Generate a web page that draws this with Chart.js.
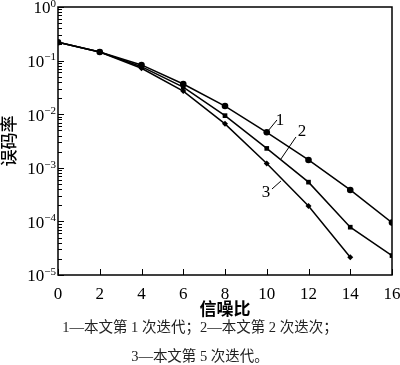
<!DOCTYPE html>
<html>
<head>
<meta charset="utf-8">
<script src="https://cdn.jsdelivr.net/npm/chart.js@4"></script>
<style>
  html, body { margin: 0; padding: 0; background: #fff; }
  #wrap { position: relative; width: 400px; height: 365px; }
  canvas { position: absolute; left: 0; top: 0; }
  .cap { position: absolute; left: 0; width: 400px; text-align: center;
         font-family: "Liberation Serif", "Noto Sans CJK SC", serif; font-size: 14.5px; color: #222; line-height: 18px; }
</style>
</head>
<body>
<div id="wrap">
  <canvas id="c" width="400" height="320"></canvas>
  <div class="cap" style="top:318px">1—本文第 1 次迭代；2—本文第 2 次迭次；</div>
  <div class="cap" style="top:347px">3—本文第 5 次迭代。</div>
</div>
<script>
// ---- data ----
const snr = [0, 2, 4, 6, 8, 10, 12, 14, 16];
const iter1 = [0.22, 0.145, 0.083, 0.0366, 0.0142, 0.0046, 0.0014, 0.000386, 0.000095];
const iter2 = [0.22, 0.145, 0.077, 0.032, 0.0094, 0.0023, 0.00054, 0.000078, 0.000023];
const iter3 = [0.22, 0.145, 0.072, 0.027, 0.0066, 0.0012, 0.000194, 0.0000214];
const yTickValues = [1e-5, 1e-4, 1e-3, 1e-2, 1e-1, 1];
const xTickValues = [0, 2, 4, 6, 8, 10, 12, 14, 16];
// curve labels: [text, textX, textY, lineX1, lineY1, lineX2, lineY2] in data units
const curveLabels = [
  ['1', 10.63, 7.46e-3, 10.06, 4.86e-3, 10.49, 7.8e-3],
  ['2', 11.69, 4.66e-3, 10.68, 1.46e-3, 11.40, 3.76e-3],
  ['3', 9.96, 3.39e-4, 10.25, 4.02e-4, 10.68, 5.67e-4]
];

const serif = '"Liberation Serif", "DejaVu Serif", serif';

const decor = {
  id: 'decor',
  afterDraw(chart) {
    const {ctx, chartArea: a, scales: {x, y}} = chart;
    ctx.save();
    ctx.strokeStyle = '#000';
    ctx.lineWidth = 1.5;
    ctx.strokeRect(a.left, a.top, a.right - a.left, a.bottom - a.top);
    ctx.lineWidth = 1;
    ctx.beginPath();
    for (let e = -5; e <= 0; e++) {
      for (let m = 1; m <= 9; m++) {
        const v = m * Math.pow(10, e);
        if (v > 1.0000001) break;
        const py = Math.round(y.getPixelForValue(v)) + 0.5;
        const len = m === 1 ? 6 : 4;
        ctx.moveTo(a.left, py); ctx.lineTo(a.left + len, py);
      }
    }
    xTickValues.forEach(v => {
      const px = Math.round(x.getPixelForValue(v)) + 0.5;
      ctx.moveTo(px, a.bottom); ctx.lineTo(px, a.bottom - 6);
    });
    ctx.stroke();
    // y tick labels: 10 with superscript exponent
    ctx.fillStyle = '#000';
    ctx.textBaseline = 'middle';
    ctx.textAlign = 'right';
    const right = a.left - 2;
    yTickValues.forEach(v => {
      const e = Math.round(Math.log10(v));
      const expText = e < 0 ? '\u2212' + String(-e) : String(e);
      const py = y.getPixelForValue(v);
      ctx.font = '11px ' + serif;
      const w = ctx.measureText(expText).width;
      ctx.fillText(expText, right, py - 3);
      ctx.font = '17px ' + serif;
      ctx.fillText('10', right - w, py + 2);
    });
    // curve labels
    ctx.font = '17px ' + serif;
    ctx.textAlign = 'center';
    ctx.textBaseline = 'middle';
    ctx.lineWidth = 1;
    curveLabels.forEach(([t, tx, ty, x1, y1, x2, y2]) => {
      ctx.fillText(t, x.getPixelForValue(tx), y.getPixelForValue(ty));
      ctx.beginPath();
      ctx.moveTo(x.getPixelForValue(x1), y.getPixelForValue(y1));
      ctx.lineTo(x.getPixelForValue(x2), y.getPixelForValue(y2));
      ctx.stroke();
    });
    ctx.restore();
  }
};

function ds(label, data, style, r) {
  return {
    label, data: data.map((v, i) => ({x: snr[i], y: v})),
    borderColor: '#000', backgroundColor: '#000', borderWidth: 1.5,
    pointStyle: style, pointRadius: r, pointHoverRadius: r,
    pointBackgroundColor: '#000', pointBorderColor: '#000', pointBorderWidth: 0,
    tension: 0, fill: false
  };
}

new Chart(document.getElementById('c'), {
  type: 'line',
  data: {
    datasets: [
      ds('1', iter1, 'circle', 3.3),
      ds('2', iter2, 'rect', 3.3),
      ds('3', iter3, 'rectRot', 3)
    ]
  },
  options: {
    responsive: false,
    animation: false,
    devicePixelRatio: 1,
    layout: { padding: { top: 7, right: 8, left: 0, bottom: 0 } },
    plugins: { legend: { display: false }, tooltip: { enabled: false } },
    scales: {
      x: {
        type: 'linear', min: 0, max: 16,
        afterBuildTicks: s => { s.ticks = xTickValues.map(v => ({value: v})); },
        afterFit: s => { s.height = 45; s.paddingLeft = 0; s.paddingRight = 0; },
        grid: { display: false }, border: { display: false },
        ticks: { color: '#000', font: { family: serif, size: 17 }, padding: 1, maxRotation: 0, autoSkip: false },
        title: { display: true, text: '信噪比', color: '#000', font: { family: '"Noto Sans CJK SC"', size: 17, weight: 'bold' }, padding: { top: 0, bottom: 1 } }
      },
      y: {
        type: 'logarithmic', min: 1e-5, max: 1,
        afterBuildTicks: s => { s.ticks = yTickValues.map(v => ({value: v})); },
        afterFit: s => { s.width = 58; s.paddingTop = 0; s.paddingBottom = 0; },
        grid: { display: false }, border: { display: false },
        ticks: { display: false },
        title: { display: true, text: '误码率', color: '#000', font: { family: '"Noto Sans CJK SC"', size: 17, weight: '500' }, padding: { top: -2, bottom: 0 } }
      }
    }
  },
  plugins: [decor]
});
</script>
</body>
</html>
